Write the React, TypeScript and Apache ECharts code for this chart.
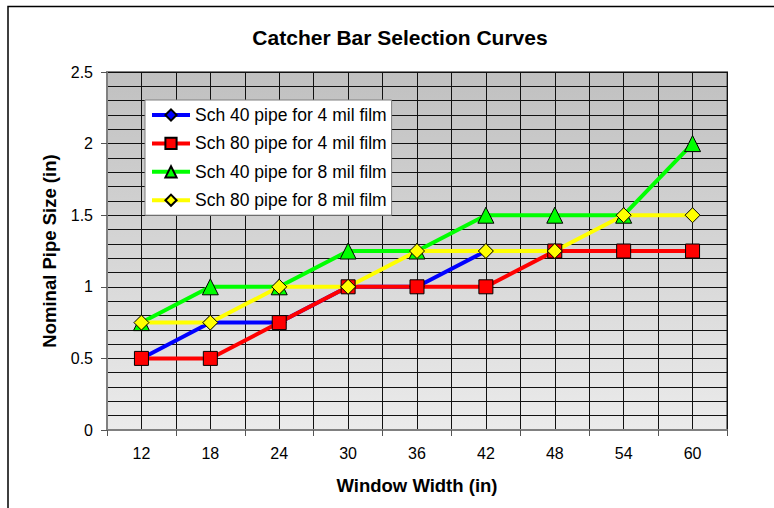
import React, { useEffect, useRef } from "react";
import * as echarts from "echarts";

const categories = ["12", "18", "24", "30", "36", "42", "48", "54", "60"];
const sch40_4mil = [0.5, 0.75, 0.75, 1, 1, 1.25, 1.25, 1.25, 1.25];
const sch80_4mil = [0.5, 0.5, 0.75, 1, 1, 1, 1.25, 1.25, 1.25];
const sch40_8mil = [0.75, 1, 1, 1.25, 1.25, 1.5, 1.5, 1.5, 2];
const sch80_8mil = [0.75, 0.75, 1, 1, 1.25, 1.25, 1.25, 1.5, 1.5];
const seriesNames = [
  "Sch 40 pipe for 4 mil film",
  "Sch 80 pipe for 4 mil film",
  "Sch 40 pipe for 8 mil film",
  "Sch 80 pipe for 8 mil film",
];

const FONT = "'Liberation Sans', Arial, sans-serif";

export default function App() {
  const ref = useRef<HTMLDivElement>(null);
  useEffect(() => {
    if (!ref.current) return;
    const chart = echarts.init(ref.current, undefined, { renderer: "svg" });
    const mk = (name: string, data: number[], color: string, symbol: string, size: number) => ({
      name,
      type: "line",
      data,
      xAxisIndex: 0,
      yAxisIndex: 0,
      symbol,
      symbolSize: size,
      showAllSymbol: true,
      lineStyle: { color, width: 4 },
      itemStyle: { color, borderColor: "#000", borderWidth: 1 },
      emphasis: { disabled: true },
    });
    chart.setOption({
      animation: false,
      textStyle: { fontFamily: FONT },
      title: {
        text: "Catcher Bar Selection Curves",
        left: 400,
        textAlign: "center",
        top: 27,
        padding: 0,
        textStyle: { fontFamily: FONT, fontSize: 21, fontWeight: "bold", color: "#000" },
      },
      graphic: [
        {
          type: "rect",
          shape: { x: 8, y: 6.5, width: 800, height: 600 },
          style: { fill: "none", stroke: "#000", lineWidth: 1.5 },
          silent: true,
          z: -10,
        },
      ],
      legend: {
        orient: "vertical",
        left: 145,
        top: 100,
        padding: [6, 5, 6, 5],
        itemWidth: 38,
        itemHeight: 14,
        itemGap: 10.4,
        backgroundColor: "#fff",
        borderColor: "#808080",
        borderWidth: 1,
        lineStyle: { width: 4 },
        textStyle: { fontFamily: FONT, fontSize: 17.5, color: "#000" },
        data: seriesNames,
      },
      grid: {
        left: 107,
        right: 47,
        top: 72,
        bottom: 78,
        show: true,
        backgroundColor: new echarts.graphic.LinearGradient(0, 0, 0, 1, [
          { offset: 0, color: "#c0c0c0" },
          { offset: 1, color: "#ebebeb" },
        ]),
        borderColor: "#808080",
        borderWidth: 2,
      },
      xAxis: [
        {
          type: "category",
          data: categories,
          boundaryGap: true,
          name: "Window Width (in)",
          nameLocation: "middle",
          nameGap: 46,
          nameTextStyle: { fontFamily: FONT, fontSize: 18.5, fontWeight: "bold", color: "#000" },
          axisLine: { show: true, lineStyle: { color: "#808080", width: 2 } },
          axisTick: { show: true, length: 6, lineStyle: { color: "#555" } },
          axisLabel: { fontFamily: FONT, fontSize: 16, color: "#000", margin: 15 },
          splitLine: { show: false },
        },
        {
          type: "value",
          min: 0,
          max: 18,
          interval: 1,
          show: true,
          position: "top",
          axisLine: { show: false },
          axisTick: { show: false },
          axisLabel: { show: false },
          splitLine: { show: true, lineStyle: { color: "#111", width: 1 } },
        },
      ],
      yAxis: {
        type: "value",
        min: 0,
        max: 2.5,
        interval: 0.5,
        name: "Nominal Pipe Size (in)",
        nameLocation: "middle",
        nameGap: 48,
        nameTextStyle: { fontFamily: FONT, fontSize: 18.5, fontWeight: "bold", color: "#000" },
        axisLine: { show: true, lineStyle: { color: "#808080", width: 2 } },
        axisTick: { show: true, length: 6, lineStyle: { color: "#555" } },
        axisLabel: { fontFamily: FONT, fontSize: 16, color: "#000", margin: 14 },
        splitLine: { show: true, lineStyle: { color: "#111", width: 1 } },
        minorTick: { show: false, splitNumber: 5 },
        minorSplitLine: { show: true, lineStyle: { color: "#111", width: 1 } },
      },
      series: [
        mk(seriesNames[0], sch40_4mil, "#0000ff", "diamond", 14),
        mk(seriesNames[1], sch80_4mil, "#ff0000", "rect", 14),
        mk(seriesNames[2], sch40_8mil, "#00ff00", "triangle", 16),
        mk(seriesNames[3], sch80_8mil, "#ffff00", "diamond", 15),
      ],
    });
    return () => chart.dispose();
  }, []);
  return (
    <div
      ref={ref}
      style={{ position: "absolute", left: 0, top: 0, width: 774, height: 508, background: "#fff" }}
    />
  );
}
